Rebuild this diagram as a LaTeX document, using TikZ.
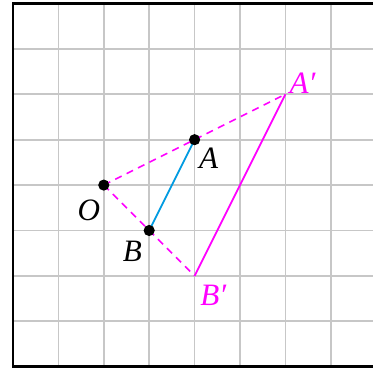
\documentclass[tikz,border=0pt]{standalone}
\usepackage{fontspec}
\setmainfont{Liberation Serif}
\usetikzlibrary{calc}
\definecolor{segblue}{RGB}{0,155,225}
\definecolor{mag}{RGB}{255,0,255}
\begin{document}
\begin{tikzpicture}[x=1cm,y=1cm,
  gridline/.style={line width=1.1pt,color=black!22},
  frameline/.style={line width=1.6pt,black},
  pt/.style={circle,fill=black,inner sep=0pt,minimum size=7pt},
  lbl/.style={inner sep=0pt,font=\fontsize{19.5}{22}\selectfont\itshape},
  dashln/.style={mag,line width=1pt,dash pattern=on 4.5pt off 3.5pt},
  solidln/.style={mag,line width=1.1pt}]
\useasboundingbox (-0.286,-0.066) rectangle (7.93,8.077);
\draw[gridline] (0,0) grid (7.95,8);
\draw[frameline] (7.95,8) -- (0,8) -- (0,0) -- (7.95,0);
\coordinate (O) at (2,4);
\coordinate (A) at (4,5);
\coordinate (B) at (3,3);
\coordinate (A2) at (6,6);
\coordinate (B2) at (4,2);
\draw[dashln] (O) -- (A2);
\draw[dashln] (O) -- (B2);
\draw[solidln] (A2) -- (B2);
\draw[segblue,line width=1.1pt] (A) -- (B);
\node[pt] (Od) at (O) {};
\node[pt] (Ad) at (A) {};
\node[pt] (Bd) at (B) {};
\node[lbl] (lA) at ($(A)+(0.31,-0.4)$) {A};
\node[lbl] (lO) at ($(O)+(-0.33,-0.55)$) {O};
\node[lbl] (lB) at ($(B)+(-0.37,-0.46)$) {B};
\node[lbl,text=mag] (lA2) at ($(A2)+(0.38,0.24)$) {A′};
\node[lbl,text=mag] (lB2) at ($(B2)+(0.41,-0.42)$) {B′};
\end{tikzpicture}
\end{document}
